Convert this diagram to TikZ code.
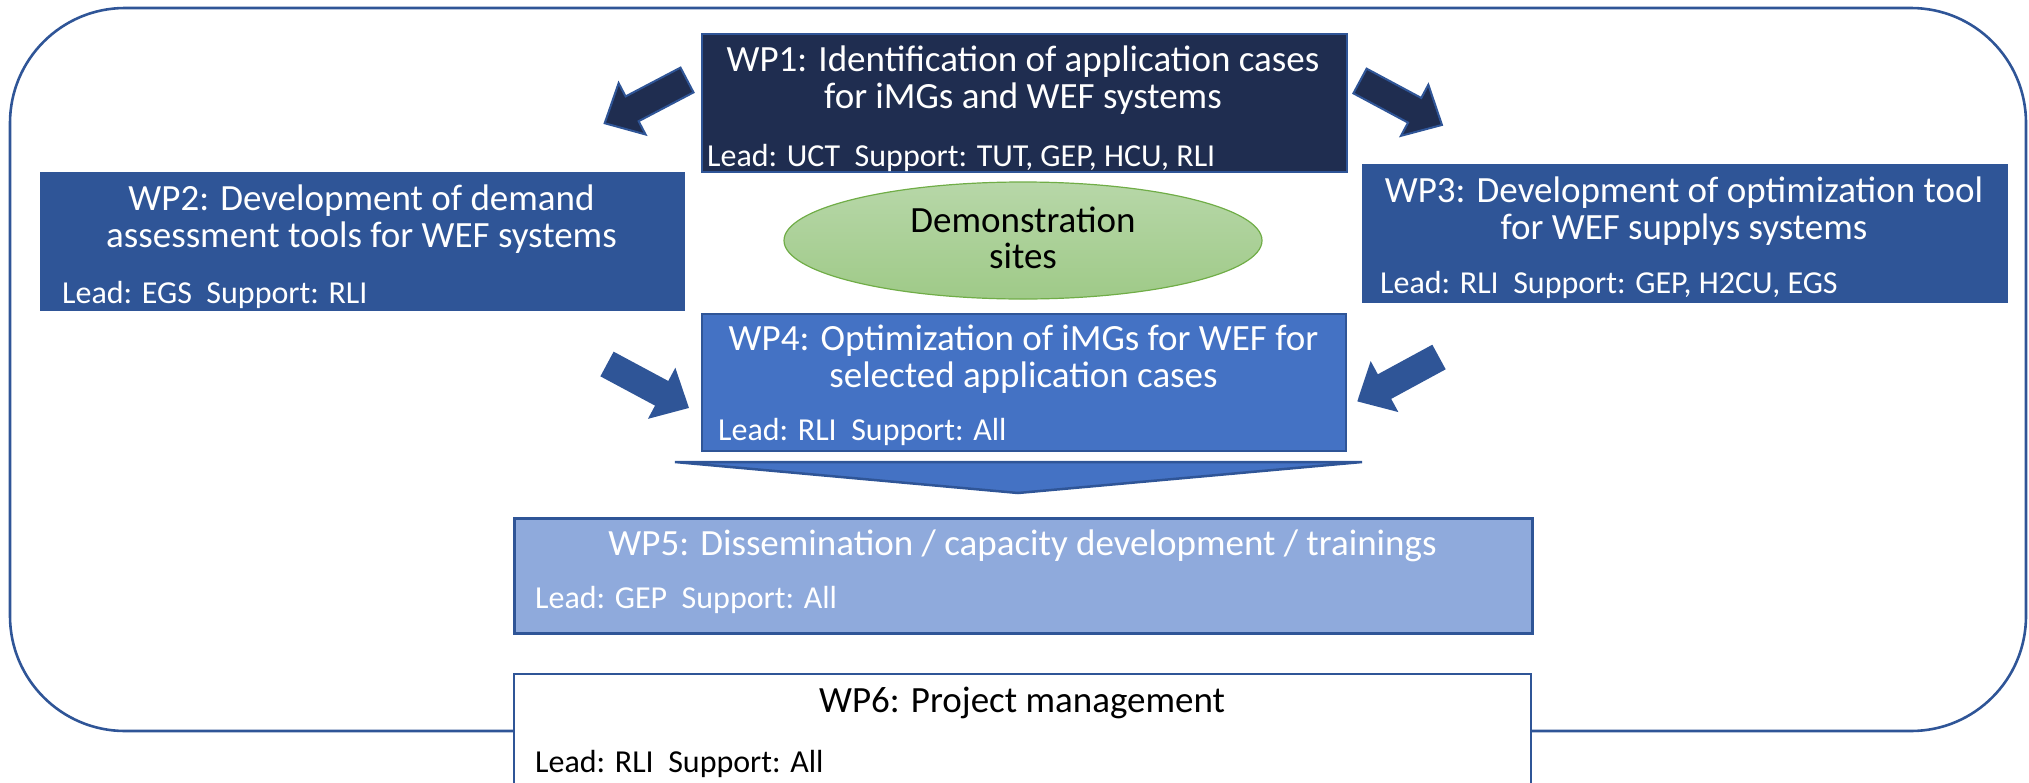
\documentclass[tikz,border=0pt]{standalone}
\usepackage{fontspec}
\setmainfont{Carlito}
\usetikzlibrary{shapes.geometric}

\definecolor{navy}{HTML}{1F2D50}
\definecolor{acc}{HTML}{2F5597}
\definecolor{mid}{HTML}{4472C4}
\definecolor{pale}{HTML}{8FAADC}
\definecolor{leaf}{HTML}{70AD47}
\definecolor{leaftop}{HTML}{B7D7A8}
\definecolor{leafbot}{HTML}{9FCA88}

\tikzset{
  wpbox/.style={rectangle, inner sep=0pt, anchor=north west},
  % the base anchor of a multi-line node sits on its last line
  wptitle/.style={inner sep=0pt, anchor=base, align=center, text=white,
    font=\fontsize{37}{36.5}\selectfont},
  wplead/.style={inner sep=0pt, anchor=base west, text=white,
    font=\fontsize{32}{38}\selectfont},
  blockarrow/.pic={
    \path[pic actions] (0,-14) -- (62,-14) -- (62,-29) -- (93,0)
      -- (62,29) -- (62,14) -- (0,14) -- cycle;
  }
}

\begin{document}
\begin{tikzpicture}[x=1pt, y=-1pt]
\useasboundingbox (0,0) rectangle (2029,782);

% outer frame of the project
\draw[acc, line width=2.6pt, rounded corners=115pt] (10,8) rectangle (2026,731);

% work package boxes
\node[wpbox, fill=navy, draw=acc, line width=2pt,
  minimum width=645pt, minimum height=138pt] (wp1) at (701,33) {};
\node[wpbox, fill=acc, draw=acc, line width=1pt,
  minimum width=644pt, minimum height=138pt] (wp2) at (40,172) {};
\node[wpbox, fill=acc, draw=acc, line width=1pt,
  minimum width=645pt, minimum height=138pt] (wp3) at (1362,164) {};
\node[wpbox, fill=mid, draw=acc, line width=2pt,
  minimum width=644pt, minimum height=137pt] (wp4) at (701,313) {};
\node[wpbox, fill=pale, draw=acc, line width=3pt,
  minimum width=1018pt, minimum height=115pt] (wp5) at (513,517) {};
\node[wpbox, fill=white, draw=acc, line width=2pt,
  minimum width=1017pt, minimum height=140pt] (wp6) at (513,673) {};

% demonstration sites
\node[ellipse, inner sep=0pt, draw=leaf, line width=1.2pt,
  top color=leaftop, bottom color=leafbot,
  minimum width=478pt, minimum height=117pt] (demo) at (1023,240.5) {};
\node[inner sep=0pt, anchor=base, align=center,
  font=\fontsize{37}{36}\selectfont] (demot) at (1023,268)
  {Demonstration\\sites};

% texts
\node[wptitle] (wp1t) at (1023,108) {WP1: Identification of application cases\\for iMGs and WEF systems};
\node[wplead] (wp1l) at (707,166) {Lead: UCT~ Support: TUT, GEP, HCU, RLI};

\node[wptitle] (wp2t) at (361.5,247) {WP2: Development of demand\\assessment tools for WEF systems};
\node[wplead] (wp2l) at (62,303) {Lead: EGS~ Support: RLI};

\node[wptitle] (wp3t) at (1684,239) {WP3: Development of optimization tool\\for WEF supplys systems};
\node[wplead] (wp3l) at (1380,293) {Lead: RLI~ Support: GEP, H2CU, EGS};

\node[wptitle] (wp4t) at (1023.5,387) {WP4: Optimization of iMGs for WEF for\\selected application cases};
\node[wplead] (wp4l) at (718,440) {Lead: RLI~ Support: All};

\node[wptitle] (wp5t) at (1022.5,555) {WP5: Dissemination / capacity development / trainings};
\node[wplead] (wp5l) at (535,608) {Lead: GEP~ Support: All};

\node[wptitle, text=black] (wp6t) at (1022,712) {WP6: Project management};
\node[wplead, text=black] (wp6l) at (535,772) {Lead: RLI~ Support: All};

% block arrows between the work packages
\pic[rotate=207.7, fill=navy, draw=acc, line width=2pt, line join=miter] at (687,80) {blockarrow};
\pic[rotate=-28.2, fill=navy, draw=acc, line width=2pt, line join=miter] at (1360,81) {blockarrow};
\pic[rotate=-28.2, fill=acc] at (607,364) {blockarrow};
\pic[rotate=208.5, fill=acc] at (1439,357) {blockarrow};

% wide arrow from WP4 down to WP5
\draw[fill=mid, draw=acc, line width=2.5pt, line join=bevel]
  (675,462) -- (1362,462) -- (1018,493) -- cycle;
\end{tikzpicture}
\end{document}
